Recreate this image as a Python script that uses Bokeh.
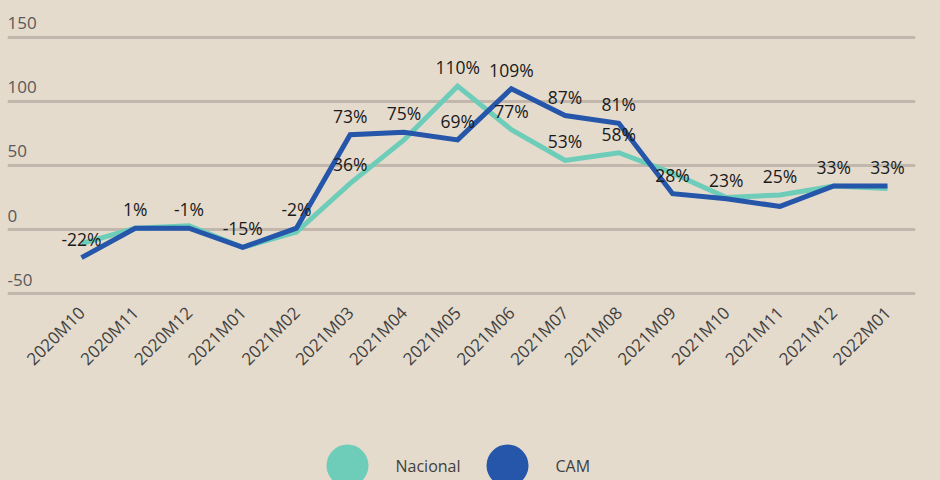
import math
import re
from bokeh.plotting import figure
from bokeh.models import FixedTicker, Range1d, ColumnDataSource
from bokeh.layouts import column
from bokeh.embed import file_html
from bokeh.resources import INLINE
from bokeh.core.properties import value

# ---- data ----
months = ["2020M10", "2020M11", "2020M12", "2021M01", "2021M02", "2021M03",
          "2021M04", "2021M05", "2021M06", "2021M07", "2021M08", "2021M09",
          "2021M10", "2021M11", "2021M12", "2022M01"]
nacional = [-11, 1, 3, -14, -2, 36, 70, 112, 78, 54, 60, 44, 25, 27, 34, 32]
cam = [-22, 1, 1, -14, 1, 74, 76, 70, 110, 89, 83, 28, 24, 18, 34, 34]
cam_labels = ["-22%", "1%", "-1%", "-15%", "-2%", "73%", "75%", "69%", "109%",
              "87%", "81%", "28%", "23%", "", "33%", "33%"]
nac_labels = ["", "", "", "", "", "36%", "", "110%", "77%", "53%", "58%", "",
              "", "25%", "", ""]
y_ticks = [-50, 0, 50, 100, 150]
series_names = ["Nacional", "CAM"]

# ---- style ----
BG = "#e4dbcd"
GRID = "#c1b7ac"
TEAL = "#6dcdb9"
BLUE = "#2556a9"
FONT = "Open Sans"
series_colors = [TEAL, BLUE]

x = list(range(len(months)))
x_start, x_end = -1.377, 15.521

p = figure(width=940, height=420, x_range=Range1d(x_start, x_end),
           y_range=Range1d(-51.56, 177.34), output_backend="svg",
           toolbar_location=None, min_border_left=7, min_border_right=25,
           min_border_top=2, min_border_bottom=125)
p.background_fill_color = None
p.border_fill_color = None
p.outline_line_color = None

p.xgrid.visible = False
p.ygrid.ticker = FixedTicker(ticks=y_ticks)
p.ygrid.grid_line_color = GRID
p.ygrid.grid_line_width = 3
p.yaxis.visible = False

p.xaxis.ticker = FixedTicker(ticks=x)
p.xaxis.major_label_overrides = {i: m for i, m in enumerate(months)}
p.xaxis.major_label_orientation = math.pi / 4
p.xaxis.axis_line_color = None
p.xaxis.major_tick_line_color = None
p.xaxis.minor_tick_line_color = None
p.xaxis.major_label_text_font = FONT
p.xaxis.major_label_text_font_size = "17px"
p.xaxis.major_label_text_color = "#404040"
p.xaxis.major_label_standoff = 8

# y tick labels above grid lines
p.text(x=[x_start] * len(y_ticks), y=y_ticks, text=[str(t) for t in y_ticks],
       text_font=value(FONT), text_font_size="17px", text_color="#595959",
       text_align="left", text_baseline="middle", y_offset=-14)

src = ColumnDataSource(dict(x=x, nac=nacional, cam=cam,
                            cam_lab=cam_labels, nac_lab=nac_labels))

p.line("x", "nac", source=src, line_color=TEAL, line_width=5, line_join="miter")
p.line("x", "cam", source=src, line_color=BLUE, line_width=5, line_join="miter")

for ycol, tcol in (("nac", "nac_lab"), ("cam", "cam_lab")):
    p.text(x="x", y=ycol, text=tcol, source=src, text_font=value(FONT),
           text_font_size="17.5px", text_color="#1a1a1a", text_align="center",
           text_baseline="middle", y_offset=-19)

# ---- legend strip (pixel-like coordinates) ----
lg = figure(width=940, height=60, x_range=Range1d(7, 915), y_range=Range1d(0, 60),
            output_backend="svg", toolbar_location=None, min_border_left=7,
            min_border_right=25, min_border_top=0, min_border_bottom=0)
lg.background_fill_color = None
lg.border_fill_color = None
lg.outline_line_color = None
lg.axis.visible = False
lg.grid.visible = False
leg_x = [347, 507]
lg.scatter(x=leg_x, y=[15, 15], size=42, marker="circle",
           fill_color=series_colors, line_color=None)
lg.text(x=[v + 48 for v in leg_x], y=[15, 15], text=series_names,
        text_font=value(FONT), text_font_size="16px", text_color="#404040",
        text_align="left", text_baseline="middle")

layout = column(p, lg, spacing=0)
html = file_html(layout, INLINE)
style = "<style>html, body { margin: 0; padding: 0; background: %s !important; }</style>" % BG
html = re.sub(r"</head>", style + "</head>", html, count=1)
open("out.html", "w").write(html)
